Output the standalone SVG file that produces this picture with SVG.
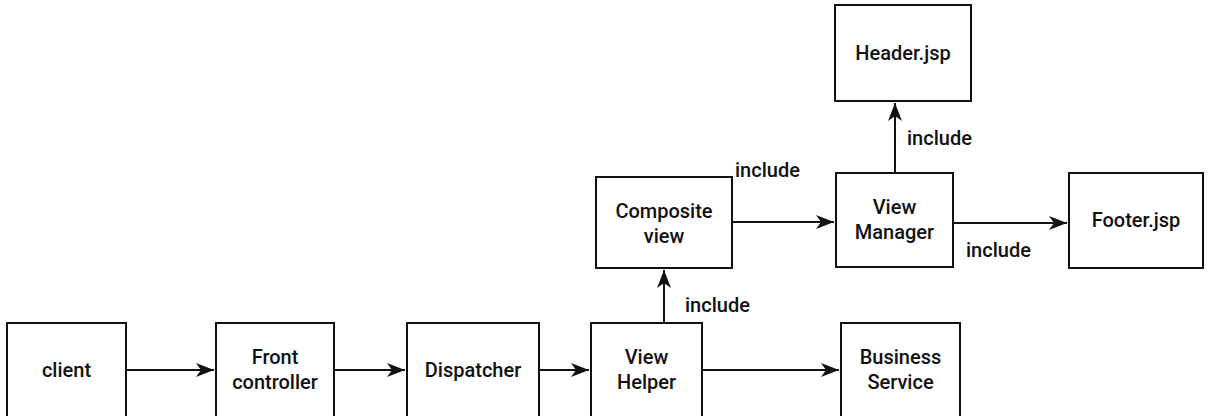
<svg xmlns="http://www.w3.org/2000/svg" width="1210" height="416" viewBox="0 0 1210 416">
<style>
rect.box{fill:#fff;stroke:#111;stroke-width:2}
text{font-family:Roboto,"Liberation Sans",sans-serif;font-weight:500;font-size:20px;fill:#111}
text.c{text-anchor:middle}
.edge{stroke:#111;stroke-width:2;fill:none}
</style>
<defs>
<marker id="arr" viewBox="0 0 18 14" refX="18" refY="7" markerWidth="18" markerHeight="14" markerUnits="userSpaceOnUse" orient="auto">
<path d="M0,0 L18,7 L0,14 L5,7 Z" fill="#111"/>
</marker>
</defs>
<rect width="1210" height="416" fill="#fff"/>
<g id="connectors">
<line class="edge" x1="126" y1="370" x2="214" y2="370" marker-end="url(#arr)"/>
<line class="edge" x1="334" y1="370" x2="405" y2="370" marker-end="url(#arr)"/>
<line class="edge" x1="539" y1="370" x2="589" y2="370" marker-end="url(#arr)"/>
<line class="edge" x1="702" y1="370" x2="839" y2="370" marker-end="url(#arr)"/>
<line class="edge" x1="664" y1="323" x2="664" y2="270" marker-end="url(#arr)"/>
<line class="edge" x1="732" y1="222" x2="834" y2="222" marker-end="url(#arr)"/>
<line class="edge" x1="895" y1="173" x2="895" y2="103" marker-end="url(#arr)"/>
<line class="edge" x1="953" y1="223" x2="1067" y2="223" marker-end="url(#arr)"/>
<text x="735" y="177">include</text>
<text x="907" y="145">include</text>
<text x="966" y="257">include</text>
<text x="685" y="312">include</text>
</g>
<g id="client"><rect class="box" x="7" y="323" width="119" height="94"/><text class="c" x="66.5" y="377">client</text></g>
<g id="front-controller"><rect class="box" x="216" y="323" width="118" height="94"/><text class="c" x="275" y="364">Front</text><text class="c" x="275" y="389">controller</text></g>
<g id="dispatcher"><rect class="box" x="407" y="323" width="132" height="94"/><text class="c" x="473" y="377">Dispatcher</text></g>
<g id="view-helper"><rect class="box" x="591" y="323" width="111" height="94"/><text class="c" x="646.5" y="364">View</text><text class="c" x="646.5" y="389">Helper</text></g>
<g id="business-service"><rect class="box" x="841" y="323" width="119" height="94"/><text class="c" x="900.5" y="364">Business</text><text class="c" x="900.5" y="389">Service</text></g>
<g id="composite-view"><rect class="box" x="596" y="177" width="136" height="91"/><text class="c" x="664" y="218">Composite</text><text class="c" x="664" y="243">view</text></g>
<g id="view-manager"><rect class="box" x="836" y="173" width="117" height="94"/><text class="c" x="894.5" y="214">View</text><text class="c" x="894.5" y="239">Manager</text></g>
<g id="header-jsp"><rect class="box" x="835" y="5" width="136" height="96"/><text class="c" x="903" y="60">Header.jsp</text></g>
<g id="footer-jsp"><rect class="box" x="1069" y="173" width="134" height="95"/><text class="c" x="1136" y="227">Footer.jsp</text></g>
</svg>
